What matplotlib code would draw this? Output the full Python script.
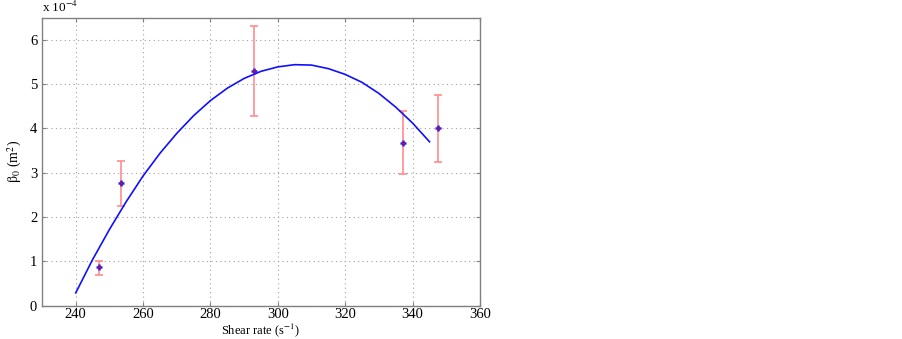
import numpy as np
import matplotlib
matplotlib.use('Agg')
import matplotlib.pyplot as plt

plt.rcParams['font.family'] = ['Liberation Serif', 'DejaVu Serif']
plt.rcParams['mathtext.fontset'] = 'stix'

# measured points (beta_0 in units of 1e-4 m^2)
shear = [246.9, 253.4, 292.8, 337.0, 347.4]
beta = [0.87, 2.76, 5.29, 3.67, 4.02]
beta_hi = [1.02, 3.27, 6.31, 4.39, 4.76]
beta_lo = [0.70, 2.25, 4.29, 2.98, 3.25]

# fitted curve
fit_x = [240, 245, 250, 255, 260, 265, 270, 275, 280, 285, 290,
         295, 300, 305, 310, 315, 320, 325, 330, 335, 340, 345]
fit_y = [0.29, 1.04, 1.72, 2.35, 2.93, 3.44, 3.89, 4.29, 4.63, 4.91, 5.13,
         5.29, 5.39, 5.44, 5.43, 5.35, 5.22, 5.04, 4.79, 4.48, 4.12, 3.70]

fig = plt.figure(figsize=(9.02, 3.39), dpi=100)
ax = fig.add_axes([0.0466, 0.0982, 0.4856, 0.8496])

err = [np.array(beta) - np.array(beta_lo), np.array(beta_hi) - np.array(beta)]
ax.errorbar(shear, beta, yerr=err, fmt='none', ecolor='#ff8c8c', elinewidth=1.2,
            capsize=3, capthick=1.2, zorder=2)
ax.plot(fit_x, fit_y, color='#1010ff', lw=1.2, zorder=3)
ax.plot(shear, beta, '+', color='#2020ff', ms=5, mew=1.8, zorder=4)
ax.plot(shear, beta, '.', color='#a01060', ms=2.5, zorder=5)

ax.set_xlim(230, 360)
ax.set_ylim(0, 6.5)
ax.set_xticks(range(240, 361, 20))
ax.set_yticks(range(0, 7))
ax.grid(True, linestyle=(0, (1, 3)), color='#a0a0a0', lw=0.8)
ax.tick_params(direction='in', top=True, right=True, labelsize=10.5,
               color='#808080', length=3)
ax.tick_params(axis='x', pad=2)
for s in ax.spines.values():
    s.set_color('#808080')
    s.set_linewidth(1.0)

ax.set_xlabel('Shear rate (s$^{-1}$)', fontsize=9, labelpad=0)
ax.set_ylabel(r'$\mathrm{\beta_0}$ (m$^2$)', fontsize=10, labelpad=4)
ax.text(0.0, 1.01, r'x 10$^{-4}$', transform=ax.transAxes, fontsize=9.5,
        ha='left', va='bottom')

fig.savefig('out.png', dpi=100)
